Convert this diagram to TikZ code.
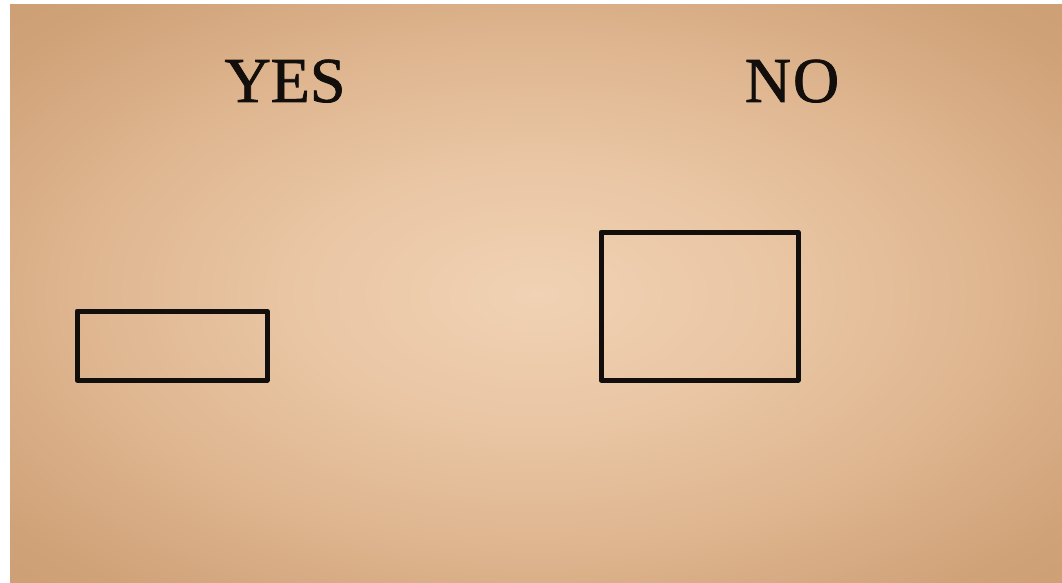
\documentclass[tikz,border=0pt]{standalone}
\usepackage{fontspec}
\setmainfont{Liberation Serif}
\newfontfamily\heavyserif{Liberation Serif}[FakeBold=1.2]
\definecolor{paperin}{RGB}{240,210,180}
\definecolor{paperin2}{RGB}{233,197,163}
\definecolor{papermid}{RGB}{222,181,143}
\definecolor{paperout}{RGB}{208,162,120}
\definecolor{papercorner}{RGB}{196,148,106}
\definecolor{inkblack}{RGB}{18,14,12}
\pgfdeclareradialshading{paperglow}{\pgfpoint{0bp}{0bp}}{%
  color(0bp)=(paperin); color(12bp)=(paperin2); color(22bp)=(papermid);
  color(32bp)=(paperout); color(50bp)=(papercorner)}
\begin{document}
\begin{tikzpicture}[x=1pt,y=-1pt,
  label/.style={font=\heavyserif\fontsize{64}{64}\selectfont, text=inkblack, inner sep=0pt, anchor=base},
  frame/.style={draw=inkblack, line width=5pt, line join=round}]
\useasboundingbox (0,0) rectangle (1062,583);
\fill[white] (0,0) rectangle (1062,583);
\shade[shading=paperglow] (10,5) rectangle (1062,583);
\node[label] (yes) at (285,102) {YES};
\node[label] (no) at (792,102) {N\kern2pt O};
\draw[frame] (77,311) rectangle (267,380);
\draw[frame] (601,232) rectangle (798,380);
\end{tikzpicture}
\end{document}
